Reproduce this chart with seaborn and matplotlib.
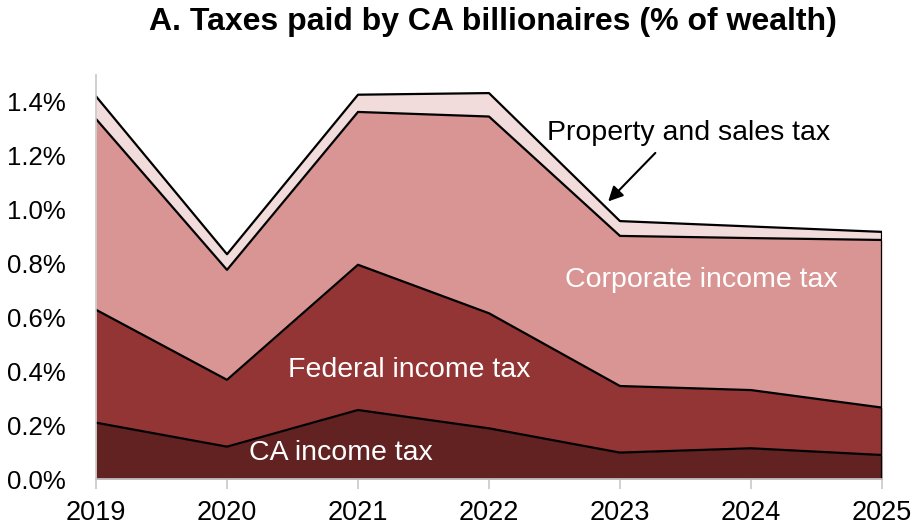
import numpy as np
import pandas as pd
import matplotlib
matplotlib.use("Agg")
import matplotlib.pyplot as plt
import seaborn as sns

years = [2019, 2020, 2021, 2022, 2023, 2024, 2025]
ca_income = [0.209, 0.120, 0.256, 0.188, 0.098, 0.114, 0.089]
federal_income = [0.419, 0.248, 0.539, 0.427, 0.247, 0.216, 0.176]
corporate_income = [0.708, 0.408, 0.567, 0.730, 0.557, 0.564, 0.622]
property_sales = [0.084, 0.058, 0.064, 0.087, 0.055, 0.043, 0.030]

layer_names = ["CA income tax", "Federal income tax", "Corporate income tax",
               "Property and sales tax"]
layer_colors = ["#622222", "#933535", "#d99594", "#f2dcdb"]
yticks = [0.0, 0.2, 0.4, 0.6, 0.8, 1.0, 1.2, 1.4]

df = pd.DataFrame({
    "year": years,
    layer_names[0]: ca_income,
    layer_names[1]: federal_income,
    layer_names[2]: corporate_income,
    layer_names[3]: property_sales,
})

sns.set_theme(style="white")
plt.rcParams["font.family"] = ["Liberation Sans", "DejaVu Sans"]

fig = plt.figure(figsize=(9.17, 5.25), dpi=100)
ax = fig.add_axes([0.1047, 0.0876, 0.8571, 0.77])

bottom = np.zeros(len(years))
tops = []
for name, color in zip(layer_names, layer_colors):
    top = bottom + df[name].to_numpy()
    ax.fill_between(df["year"], bottom, top, color=color, linewidth=0, zorder=1)
    tops.append(top)
    bottom = top

# black outline along the top of each stacked layer
for top in tops:
    sns.lineplot(x=df["year"], y=top, color="black", linewidth=1.6, ax=ax,
                 zorder=3, legend=False)
ax.vlines(years[-1], 0, tops[-1][-1], color="black", linewidth=1.6, zorder=3)

ax.set_xlim(years[0], years[-1])
ax.set_ylim(0, 1.5)
ax.set_xticks(years)
ax.set_xticklabels([str(y) for y in years])
ax.set_yticks(yticks)
ax.set_yticklabels([f"{v:.1f}%" for v in yticks])
ax.set_xlabel("")
ax.set_ylabel("")

for side in ["top", "right"]:
    ax.spines[side].set_visible(False)
for side in ["left", "bottom"]:
    ax.spines[side].set_color("#c8c8c8")
    ax.spines[side].set_linewidth(1.2)
    ax.spines[side].set_zorder(4)

ax.tick_params(axis="x", which="major", bottom=True, length=7, width=1.2,
               color="#c8c8c8", labelsize=19.5, pad=8, labelcolor="black")
ax.tick_params(axis="y", left=False, labelsize=18.5, pad=16, labelcolor="black")

fig.text(493 / 917, 1 - 22 / 525, "A. Taxes paid by CA billionaires (% of wealth)",
         fontsize=23, fontweight="bold", ha="center", va="center", color="black",
         family=["Liberation Sans Narrow", "Liberation Sans", "DejaVu Sans"])

# layer labels
label_size = 20.5
ax.text(2023.62, 0.738, "Corporate income tax", color="white", fontsize=label_size,
        ha="center", va="center", zorder=5)
ax.text(2021.39, 0.404, "Federal income tax", color="white", fontsize=label_size,
        ha="center", va="center", zorder=5)
ax.text(2020.87, 0.096, "CA income tax", color="white", fontsize=label_size,
        ha="center", va="center", zorder=5)
ax.text(2022.44, 1.284, "Property and sales tax", fontsize=label_size,
        ha="left", va="center", color="black", zorder=5)
ax.annotate("", xy=(2022.91, 1.03), xytext=(2023.27, 1.21),
            arrowprops=dict(arrowstyle="-|>", color="black", lw=1.5,
                            mutation_scale=22, shrinkA=0, shrinkB=0),
            zorder=5)

fig.savefig("out.png", dpi=100)
